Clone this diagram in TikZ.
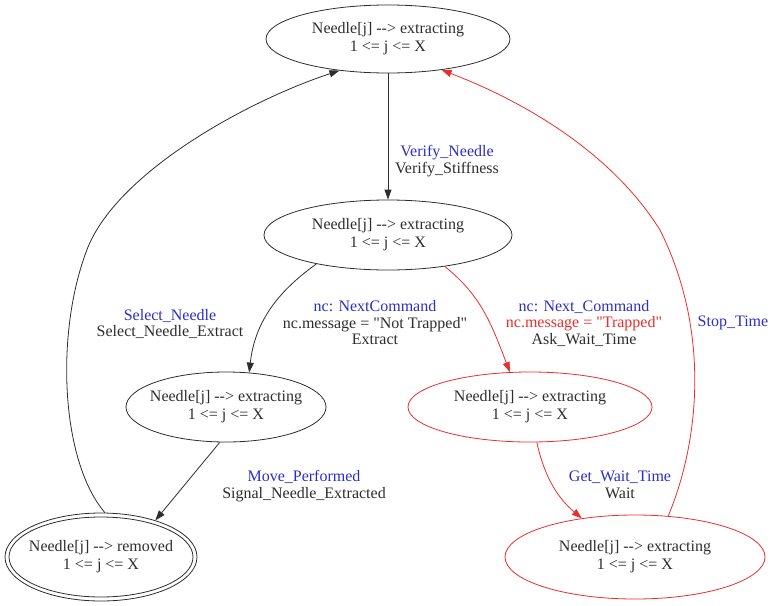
\documentclass[tikz,border=0pt]{standalone}
\usepackage{fontspec}
\setmainfont{Liberation Serif}[Ligatures=TeXOff]
\usetikzlibrary{shapes.geometric,arrows.meta}
\definecolor{lblue}{RGB}{45,45,200}
\definecolor{lred}{RGB}{235,45,45}
\definecolor{ink}{RGB}{45,45,45}
\tikzset{
  state/.style={ellipse,draw=ink,line width=0.8pt,inner ysep=0pt,inner xsep=-8pt,align=center,
    text=ink,font=\fontsize{16}{18}\selectfont},
  redstate/.style={state,draw=lred},
  edge/.style={draw=ink,line width=0.8pt,-{Triangle[length=10pt,width=7pt]}},
  redge/.style={edge,draw=lred,-{Triangle[length=10pt,width=7pt,fill=lred]}},
  lab/.style={align=center,inner sep=0pt,text=ink,font=\fontsize{16}{16.5}\selectfont}
}
\begin{document}
\begin{tikzpicture}[x=1pt,y=-1pt]
\useasboundingbox (0,0) rectangle (770,605);
% nodes
\node[state,minimum width=244pt,minimum height=68pt] (n1) at (388,39) {Needle[j] --> extracting\\1 <= j <= X};
\node[state,minimum width=248pt,minimum height=70pt] (n2) at (388,235) {Needle[j] --> extracting\\1 <= j <= X};
\node[state,minimum width=200pt,minimum height=70pt] (n3) at (226,407) {Needle[j] --> extracting\\1 <= j <= X};
\node[redstate,minimum width=244pt,minimum height=70pt] (n4) at (530,407) {Needle[j] --> extracting\\1 <= j <= X};
\node[state,minimum width=192pt,minimum height=88pt] (n5) at (101,557) {};
\node[state,inner xsep=-25pt,minimum width=184pt,minimum height=80pt] (n5i) at (101,557) {Needle[j] --> removed\\1 <= j <= X};
\node[redstate,minimum width=260pt,minimum height=84pt] (n6) at (635,557) {Needle[j] --> extracting\\1 <= j <= X};
% edges
\draw[edge] (n1.south) -- (n2.north);
\draw[edge] (n2.202) .. controls (280,290) and (255,320) .. (n3.56);
\draw[redge] (n2.331) .. controls (480,295) and (490,320) .. (n4.120);
\draw[edge] (n3.260) -- (n5.34);
\draw[redge] (n4.281) .. controls (545,480) and (560,500) .. (n6.144);
\coordinate (m1) at (88,247);
\draw[edge] (n5.85) .. controls (60,460) and (55,330) .. (m1) .. controls (120,170) and (250,100) .. (n1.213);
\coordinate (m2) at (660,230);
\draw[redge] (n6.51) .. controls (700,440) and (710,330) .. (m2) .. controls (610,150) and (520,100) .. (n1.330);
% labels
\node[lab] (l1) at (447,161) {\textcolor{lblue}{Verify\_Needle}\\Verify\_Stiffness};
\node[lab] (l2) at (375,323) {\textcolor{lblue}{nc: NextCommand}\\nc.message = "Not Trapped"\\Extract};
\node[lab] (l3) at (584,323) {\textcolor{lblue}{nc: Next\_Command}\\\textcolor{lred}{nc.message = "Trapped"}\\Ask\_Wait\_Time};
\node[lab] (l4) at (170,324) {\textcolor{lblue}{Select\_Needle}\\Select\_Needle\_Extract};
\node[lab] (l5) at (304,486) {\textcolor{lblue}{Move\_Performed}\\Signal\_Needle\_Extracted};
\node[lab] (l6) at (620,485) {\textcolor{lblue}{Get\_Wait\_Time}\\Wait};
\node[lab] (l7) at (733,323) {\textcolor{lblue}{Stop\_Time}};
\end{tikzpicture}
\end{document}
